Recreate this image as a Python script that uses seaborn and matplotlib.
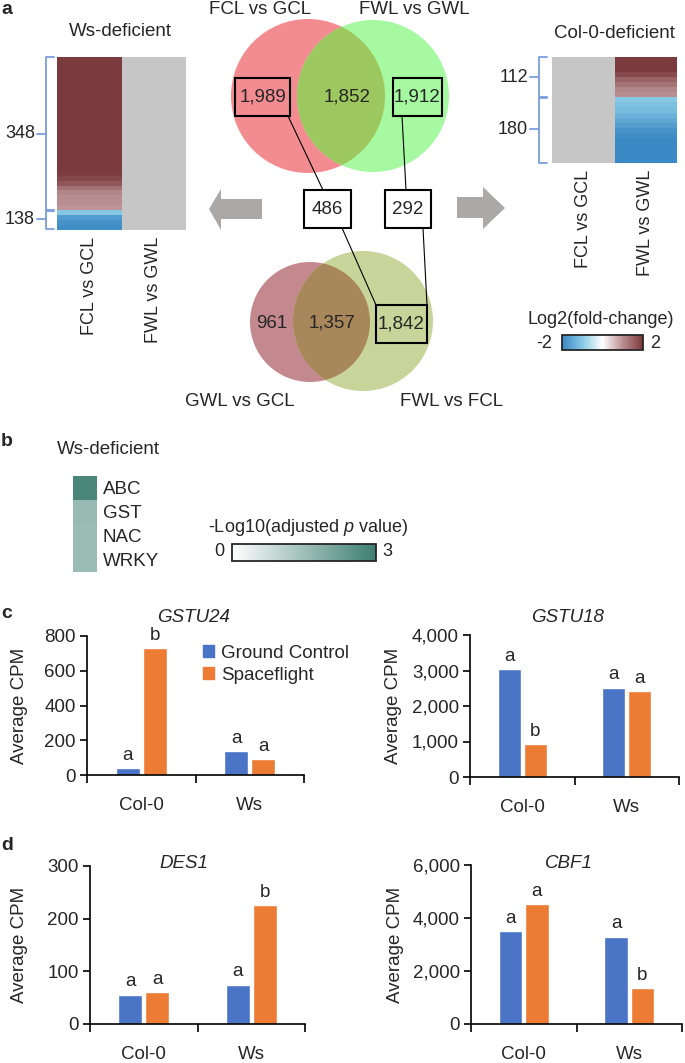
import numpy as np
import pandas as pd
import matplotlib
matplotlib.use("Agg")
import matplotlib.pyplot as plt
import seaborn as sns
from matplotlib.patches import Circle, Rectangle, Polygon, Patch
from matplotlib.colors import LinearSegmentedColormap, Normalize
from matplotlib.cm import ScalarMappable
from matplotlib.ticker import FuncFormatter

# ---------------- data ----------------
venn_top_labels = ["FCL vs GCL", "FWL vs GWL"]
venn_top_counts = ["1,989", "1,852", "1,912"]
venn_bottom_labels = ["GWL vs GCL", "FWL vs FCL"]
venn_bottom_counts = ["961", "1,357", "1,842"]
shared_counts = ["486", "292"]

heat_cols = ["FCL vs GCL", "FWL vs GWL"]
ws_group_sizes = ["348", "138"]
col0_group_sizes = ["112", "180"]
# log2 fold-change bands (top to bottom)
ws_fcl_vs_gcl = [2.0, 2.0, 2.0, 2.0, 2.0, 2.0, 2.0, 2.0, 2.0, 2.0, 2.0, 2.0,
                 2.0, 2.0, 2.0, 2.0, 2.0, 2.0, 2.0, 2.0, 2.0, 2.0, 2.0, 1.95,
                 1.85, 1.65, 1.35, 1.1, 1.0, 1.0, 0.95,
                 -1.0, -1.7, -1.85, -1.9]
col0_fwl_vs_gwl = [2.0, 2.0, 2.0, 1.8, 1.5, 1.3, 1.1, 1.0,
                   -1.0, -1.1, -1.2, -1.35, -1.5, -1.65, -1.8, -1.9,
                   -2.0, -2.0, -2.0, -2.0, -2.0]

families = ["ABC", "GST", "NAC", "WRKY"]
family_neglog10p = [2.8, 1.6, 1.55, 1.55]

genotypes = ["Col-0", "Ws"]
conditions = ["Ground Control", "Spaceflight"]
gstu24_gc = [40, 138]
gstu24_sf = [730, 92]
gstu24_letters_gc = ["a", "a"]
gstu24_letters_sf = ["b", "a"]
gstu18_gc = [3030, 2520]
gstu18_sf = [930, 2430]
gstu18_letters_gc = ["a", "a"]
gstu18_letters_sf = ["b", "a"]
des1_gc = [56, 75]
des1_sf = [60, 226]
des1_letters_gc = ["a", "a"]
des1_letters_sf = ["a", "b"]
cbf1_gc = [3500, 3300]
cbf1_sf = [4530, 1370]
cbf1_letters_gc = ["a", "a"]
cbf1_letters_sf = ["a", "b"]

# ---------------- style ----------------
sns.set_style("white")
plt.rcParams["font.family"] = ["Liberation Sans", "DejaVu Sans"]
plt.rcParams["mathtext.fontset"] = "custom"
plt.rcParams["mathtext.rm"] = "Liberation Sans"
plt.rcParams["mathtext.it"] = "Liberation Sans:italic"

W, H = 685, 1063
fig = plt.figure(figsize=(W / 100, H / 100), dpi=100)

def px_axes(x0, y0, x1, y1):
    return fig.add_axes([x0 / W, 1 - y1 / H, (x1 - x0) / W, (y1 - y0) / H])

BLUE = "#4a74c6"
ORANGE = "#ec7c34"
FS = 13.5

fc_cmap = LinearSegmentedColormap.from_list(
    "fc", [(0.0, "#3a88c4"), (0.25, "#86c8e4"), (0.5, "#ffffff"),
           (0.75, "#b98e91"), (1.0, "#7a3a3e")])
teal_cmap = LinearSegmentedColormap.from_list("teal", ["#ffffff", "#3d7e71"])

# ---------------- panel a heatmaps ----------------
def fc_heatmap(box, left_vals, right_vals):
    ax = px_axes(*box)
    n = max(len(left_vals or []), len(right_vals or []))
    df = pd.DataFrame({heat_cols[0]: left_vals if left_vals else [np.nan] * n,
                       heat_cols[1]: right_vals if right_vals else [np.nan] * n})
    sns.heatmap(df, ax=ax, cmap=fc_cmap, vmin=-2, vmax=2, cbar=False,
                xticklabels=heat_cols, yticklabels=False)
    ax.set_facecolor("#c6c6c6")
    ax.tick_params(axis="x", length=0, pad=5, labelsize=13, rotation=90)
    return ax

fc_heatmap((57, 57, 186, 230), ws_fcl_vs_gcl, None)
fc_heatmap((552, 57, 677, 163), None, col0_fwl_vs_gwl)

# ---------------- panel b heatmap ----------------
axb = px_axes(73, 476, 97, 572)
sns.heatmap(pd.DataFrame({"p": family_neglog10p}, index=families), ax=axb,
            cmap=teal_cmap, vmin=0, vmax=3, cbar=False, xticklabels=False,
            yticklabels=families)
axb.yaxis.tick_right()
axb.tick_params(axis="y", length=0, pad=4, labelsize=FS, rotation=0)

# colorbars
cax1 = px_axes(562, 335, 643, 350)
cb1 = fig.colorbar(ScalarMappable(Normalize(-2, 2), fc_cmap), cax=cax1,
                   orientation="horizontal")
cb1.set_ticks([])
cb1.outline.set_linewidth(1.3)
cax2 = px_axes(232, 544, 376, 561)
cb2 = fig.colorbar(ScalarMappable(Normalize(0, 3), teal_cmap), cax=cax2,
                   orientation="horizontal")
cb2.set_ticks([])
cb2.outline.set_linewidth(1.3)

# ---------------- bar panels ----------------
def bar_panel(box, gc, sf, let_gc, let_sf, ymax, ystep, title, title_xy, ylab_x,
              legend=False):
    ax = px_axes(*box)
    df = pd.DataFrame({"Genotype": genotypes * 2,
                       "Condition": [conditions[0]] * 2 + [conditions[1]] * 2,
                       "CPM": gc + sf})
    sns.barplot(data=df, x="Genotype", y="CPM", hue="Condition",
                palette=[BLUE, ORANGE], width=0.5, gap=0.11, saturation=1,
                legend=False, ax=ax, errorbar=None)
    for cont, lets in zip(ax.containers, [let_gc, let_sf]):
        for bar, lab in zip(cont, lets):
            ax.annotate(lab, (bar.get_x() + bar.get_width() / 2, bar.get_height()),
                        xytext=(0, 3), textcoords="offset points", ha="center",
                        va="bottom", fontsize=FS)
    ax.set_xlim(-0.5, 1.5)
    ax.set_ylim(0, ymax)
    ax.set_yticks(np.arange(0, ymax + 1, ystep))
    ax.yaxis.set_major_formatter(FuncFormatter(lambda v, p: f"{v:,.0f}"))
    ax.set_xticks([0, 1])
    ax.set_xticks([-0.5, 0.5, 1.5], minor=True)
    ax.tick_params(axis="x", which="major", length=0, pad=15.5, labelsize=FS)
    ax.tick_params(axis="x", which="minor", length=6, width=1.2, direction="out",
                   color="black", bottom=True)
    ax.tick_params(axis="y", length=5, width=1.2, direction="out", color="black",
                   left=True, labelsize=FS, pad=3)
    for s in ["top", "right"]:
        ax.spines[s].set_visible(False)
    for s in ["left", "bottom"]:
        ax.spines[s].set_color("black")
        ax.spines[s].set_linewidth(1.2)
    ax.set_xlabel("")
    ax.set_ylabel("")
    fig.text(ylab_x / W, 1 - ((box[1] + box[3]) / 2) / H, "Average CPM",
             rotation=90, ha="center", va="center", fontsize=FS)
    fig.text(title_xy[0] / W, 1 - title_xy[1] / H, title, style="italic",
             ha="center", va="center", fontsize=FS)
    if legend:
        handles = [Patch(color=BLUE, label=conditions[0]),
                   Patch(color=ORANGE, label=conditions[1])]
        ax.legend(handles=handles, loc="upper left", frameon=False,
                  bbox_to_anchor=(203 / W, 1 - 645 / H), bbox_transform=fig.transFigure,
                  fontsize=FS, handlelength=0.6, handleheight=0.6,
                  handletextpad=0.35, labelspacing=0.25, borderaxespad=0,
                  borderpad=0)
    return ax

bar_panel((87, 636, 304, 775), gstu24_gc, gstu24_sf, gstu24_letters_gc,
          gstu24_letters_sf, 800, 200, "GSTU24", (194, 617), 20, legend=True)
bar_panel((470, 635, 679, 777), gstu18_gc, gstu18_sf, gstu18_letters_gc,
          gstu18_letters_sf, 4000, 1000, "GSTU18", (568, 617), 394)
bar_panel((90, 866, 305, 1024), des1_gc, des1_sf, des1_letters_gc,
          des1_letters_sf, 300, 100, "DES1", (184, 863), 20)
bar_panel((471, 865, 682, 1024), cbf1_gc, cbf1_sf, cbf1_letters_gc,
          cbf1_letters_sf, 6000, 2000, "CBF1", (569, 863), 395)

# ---------------- overlay (venn diagrams, annotations) ----------------
ov = fig.add_axes([0, 0, 1, 1])
ov.set_xlim(0, W)
ov.set_ylim(H, 0)
ov.axis("off")
ov.patch.set_alpha(0)

def venn(c1, r1, col1, c2, r2, col2, colx):
    a = Circle(c1, r1, color=col1, lw=0)
    b = Circle(c2, r2, color=col2, lw=0)
    ov.add_patch(a)
    ov.add_patch(b)
    lens = Circle(c2, r2, color=colx, lw=0)
    ov.add_patch(lens)
    lens.set_clip_path(Circle(c1, r1, transform=ov.transData))

venn((308, 96), 77, "#f28c91", (373, 96), 76, "#a6f9a0", "#9dc85f")
venn((310, 322), 60, "#c4898f", (363, 321), 70, "#c8d49a", "#a8875a")

# connector lines
for (x0, y0), (x1, y1) in [((288, 116), (323, 190)), ((402, 116), (406, 190)),
                           ((342, 228), (376, 305)), ((423, 228), (427, 305))]:
    ov.plot([x0, x1], [y0, y1], color="black", lw=0.8)

# boxes
for (x0, y0, x1, y1), fc in [((235, 78, 290, 116), "none"), ((393, 78, 442, 116), "none"),
                             ((376, 305, 427, 343), "none"),
                             ((304, 190, 351, 228), "white"), ((385, 190, 431, 228), "white")]:
    ov.add_patch(Rectangle((x0, y0), x1 - x0, y1 - y0, facecolor=fc,
                           edgecolor="black", lw=1.5, zorder=3))

ov.text(263, 97, venn_top_counts[0], ha="center", va="center", fontsize=FS, zorder=4)
ov.text(347, 97, venn_top_counts[1], ha="center", va="center", fontsize=FS, zorder=4)
ov.text(417, 97, venn_top_counts[2], ha="center", va="center", fontsize=FS, zorder=4)
ov.text(272, 323, venn_bottom_counts[0], ha="center", va="center", fontsize=FS, zorder=4)
ov.text(332, 323, venn_bottom_counts[1], ha="center", va="center", fontsize=FS, zorder=4)
ov.text(401, 324, venn_bottom_counts[2], ha="center", va="center", fontsize=FS, zorder=4)
ov.text(327, 209, shared_counts[0], ha="center", va="center", fontsize=FS, zorder=4)
ov.text(408, 209, shared_counts[1], ha="center", va="center", fontsize=FS, zorder=4)

ov.text(260, 10, venn_top_labels[0], ha="center", va="center", fontsize=FS)
ov.text(414, 10, venn_top_labels[1], ha="center", va="center", fontsize=FS)
ov.text(240, 401, venn_bottom_labels[0], ha="center", va="center", fontsize=FS)
ov.text(452, 401, venn_bottom_labels[1], ha="center", va="center", fontsize=FS)

# arrows
ov.add_patch(Polygon([(209, 209), (221, 189), (221, 199), (262, 199), (262, 219),
                      (221, 219), (221, 230)], closed=True, color="#aba8a8", lw=0))
ov.add_patch(Polygon([(505, 208), (483, 187), (483, 197), (457, 197), (457, 218),
                      (483, 218), (483, 229)], closed=True, color="#aba8a8", lw=0))

# heatmap titles
ov.text(120, 32, "Ws-deficient", ha="center", va="center", fontsize=FS)
ov.text(614, 34, "Col-0-deficient", ha="center", va="center", fontsize=FS)

# brackets
BR = "#7b9cdc"
def bracket(x, y0, y1, ytick, label):
    ov.plot([x + 8, x, x, x + 8], [y0, y0, y1, y1], color=BR, lw=1.3)
    ov.plot([x - 9, x], [ytick, ytick], color=BR, lw=1.3)
    ov.text(x - 11, ytick, label, ha="right", va="center", fontsize=13)

bracket(46, 57, 210, 134, ws_group_sizes[0])
bracket(46, 211, 229, 219, ws_group_sizes[1])
bracket(539, 57, 97, 77, col0_group_sizes[0])
bracket(539, 98, 163, 129, col0_group_sizes[1])

# colorbar labels
ov.text(601, 320, "Log2(fold-change)", ha="center", va="center", fontsize=13)
ov.text(544, 343, "-2", ha="center", va="center", fontsize=13)
ov.text(655, 343, "2", ha="center", va="center", fontsize=13)
ov.text(108, 450, "Ws-deficient", ha="center", va="center", fontsize=FS)
ov.text(208, 527, r"-Log10(adjusted $\mathit{p}$ value)", ha="left", va="center", fontsize=13)
ov.text(219, 552, "0", ha="center", va="center", fontsize=13)
ov.text(387, 552, "3", ha="center", va="center", fontsize=13)

# panel letters
for lab, y in [("a", 10), ("b", 441), ("c", 613), ("d", 845)]:
    ov.text(1, y, lab, ha="left", va="center", fontsize=14, fontweight="bold")

fig.savefig("out.png", dpi=100)
